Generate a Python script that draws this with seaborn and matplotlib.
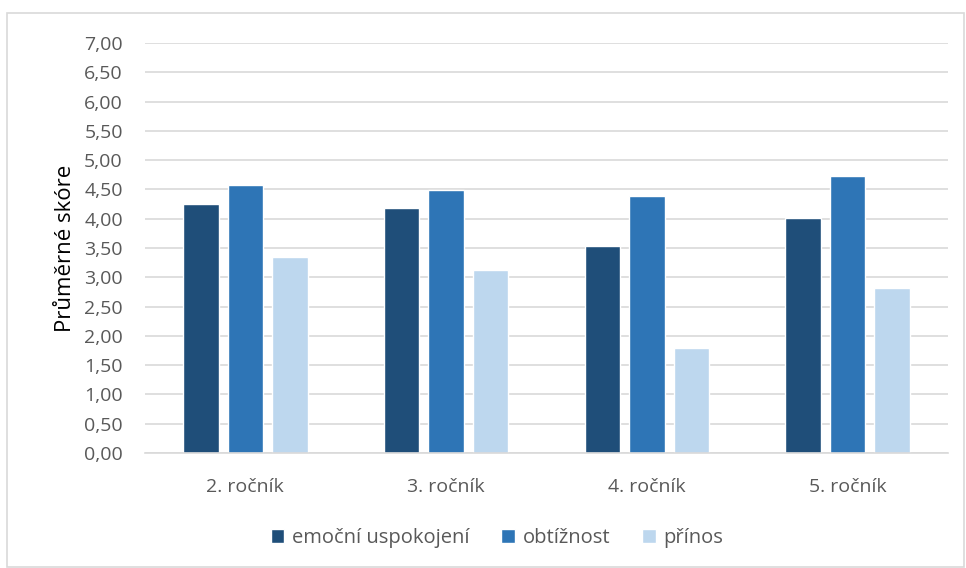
import matplotlib
matplotlib.use("Agg")
import matplotlib.pyplot as plt
import pandas as pd
import seaborn as sns
from matplotlib.patches import Rectangle

# Data
categories = ['2. ročník', '3. ročník', '4. ročník', '5. ročník']
series = ['emoční uspokojení', 'obtížnost', 'přínos']
emocni = [4.25, 4.18, 3.53, 4.02]
obtiznost = [4.57, 4.49, 4.39, 4.73]
prinos = [3.35, 3.12, 1.79, 2.81]
colors = ['#1F4E79', '#2E75B6', '#BDD7EE']

df = pd.DataFrame({
    'rocnik': categories * 3,
    'serie': [s for s in series for _ in categories],
    'skore': emocni + obtiznost + prinos,
})

sns.set_style('white')
plt.rcParams['font.family'] = ['Open Sans', 'DejaVu Sans']

fig = plt.figure(figsize=(9.66, 5.68), dpi=100)
ax = fig.add_axes([145 / 966, 1 - 453 / 568, 803 / 966, 410 / 568])

sns.barplot(data=df, x='rocnik', y='skore', hue='serie', palette=colors,
            width=0.664, gap=0.2, ax=ax, legend=True, saturation=1)

ax.set_xlim(-0.5, 3.5)
ax.set_ylim(0, 7)
ax.set_yticks([i * 0.5 for i in range(15)])
ax.set_yticklabels([f'{i * 0.5:.2f}'.replace('.', ',') for i in range(15)])
ax.yaxis.grid(True, color='#D9D9D9', linewidth=1.2)
ax.set_axisbelow(True)
for side in ['left', 'right', 'top']:
    ax.spines[side].set_visible(False)
ax.spines['bottom'].set_color('#D9D9D9')
ax.spines['bottom'].set_linewidth(1.2)
ax.tick_params(axis='both', length=0, labelsize=14, colors='#595959')
ax.tick_params(axis='y', pad=16)
ax.tick_params(axis='x', pad=18)
ax.set_xlabel('')
ax.set_ylabel('Průměrné skóre', fontsize=16, color='black', labelpad=6)

handles, labels = ax.get_legend_handles_labels()
ax.get_legend().remove()
leg = fig.legend(handles, labels, loc='center', bbox_to_anchor=(497 / 966, 1 - 538 / 568),
                 ncol=3, frameon=False, fontsize=14.5, handlelength=0.65, handleheight=0.65,
                 handletextpad=0.4, columnspacing=1.6)
for t in leg.get_texts():
    t.set_color('#595959')

fig.patches.append(Rectangle((7 / 966, 0.002), 1 - 9 / 966, 1 - 13 / 568 - 0.002,
                             transform=fig.transFigure, fill=False,
                             edgecolor='#D9D9D9', linewidth=1.2))

fig.savefig('out.png', dpi=100)
